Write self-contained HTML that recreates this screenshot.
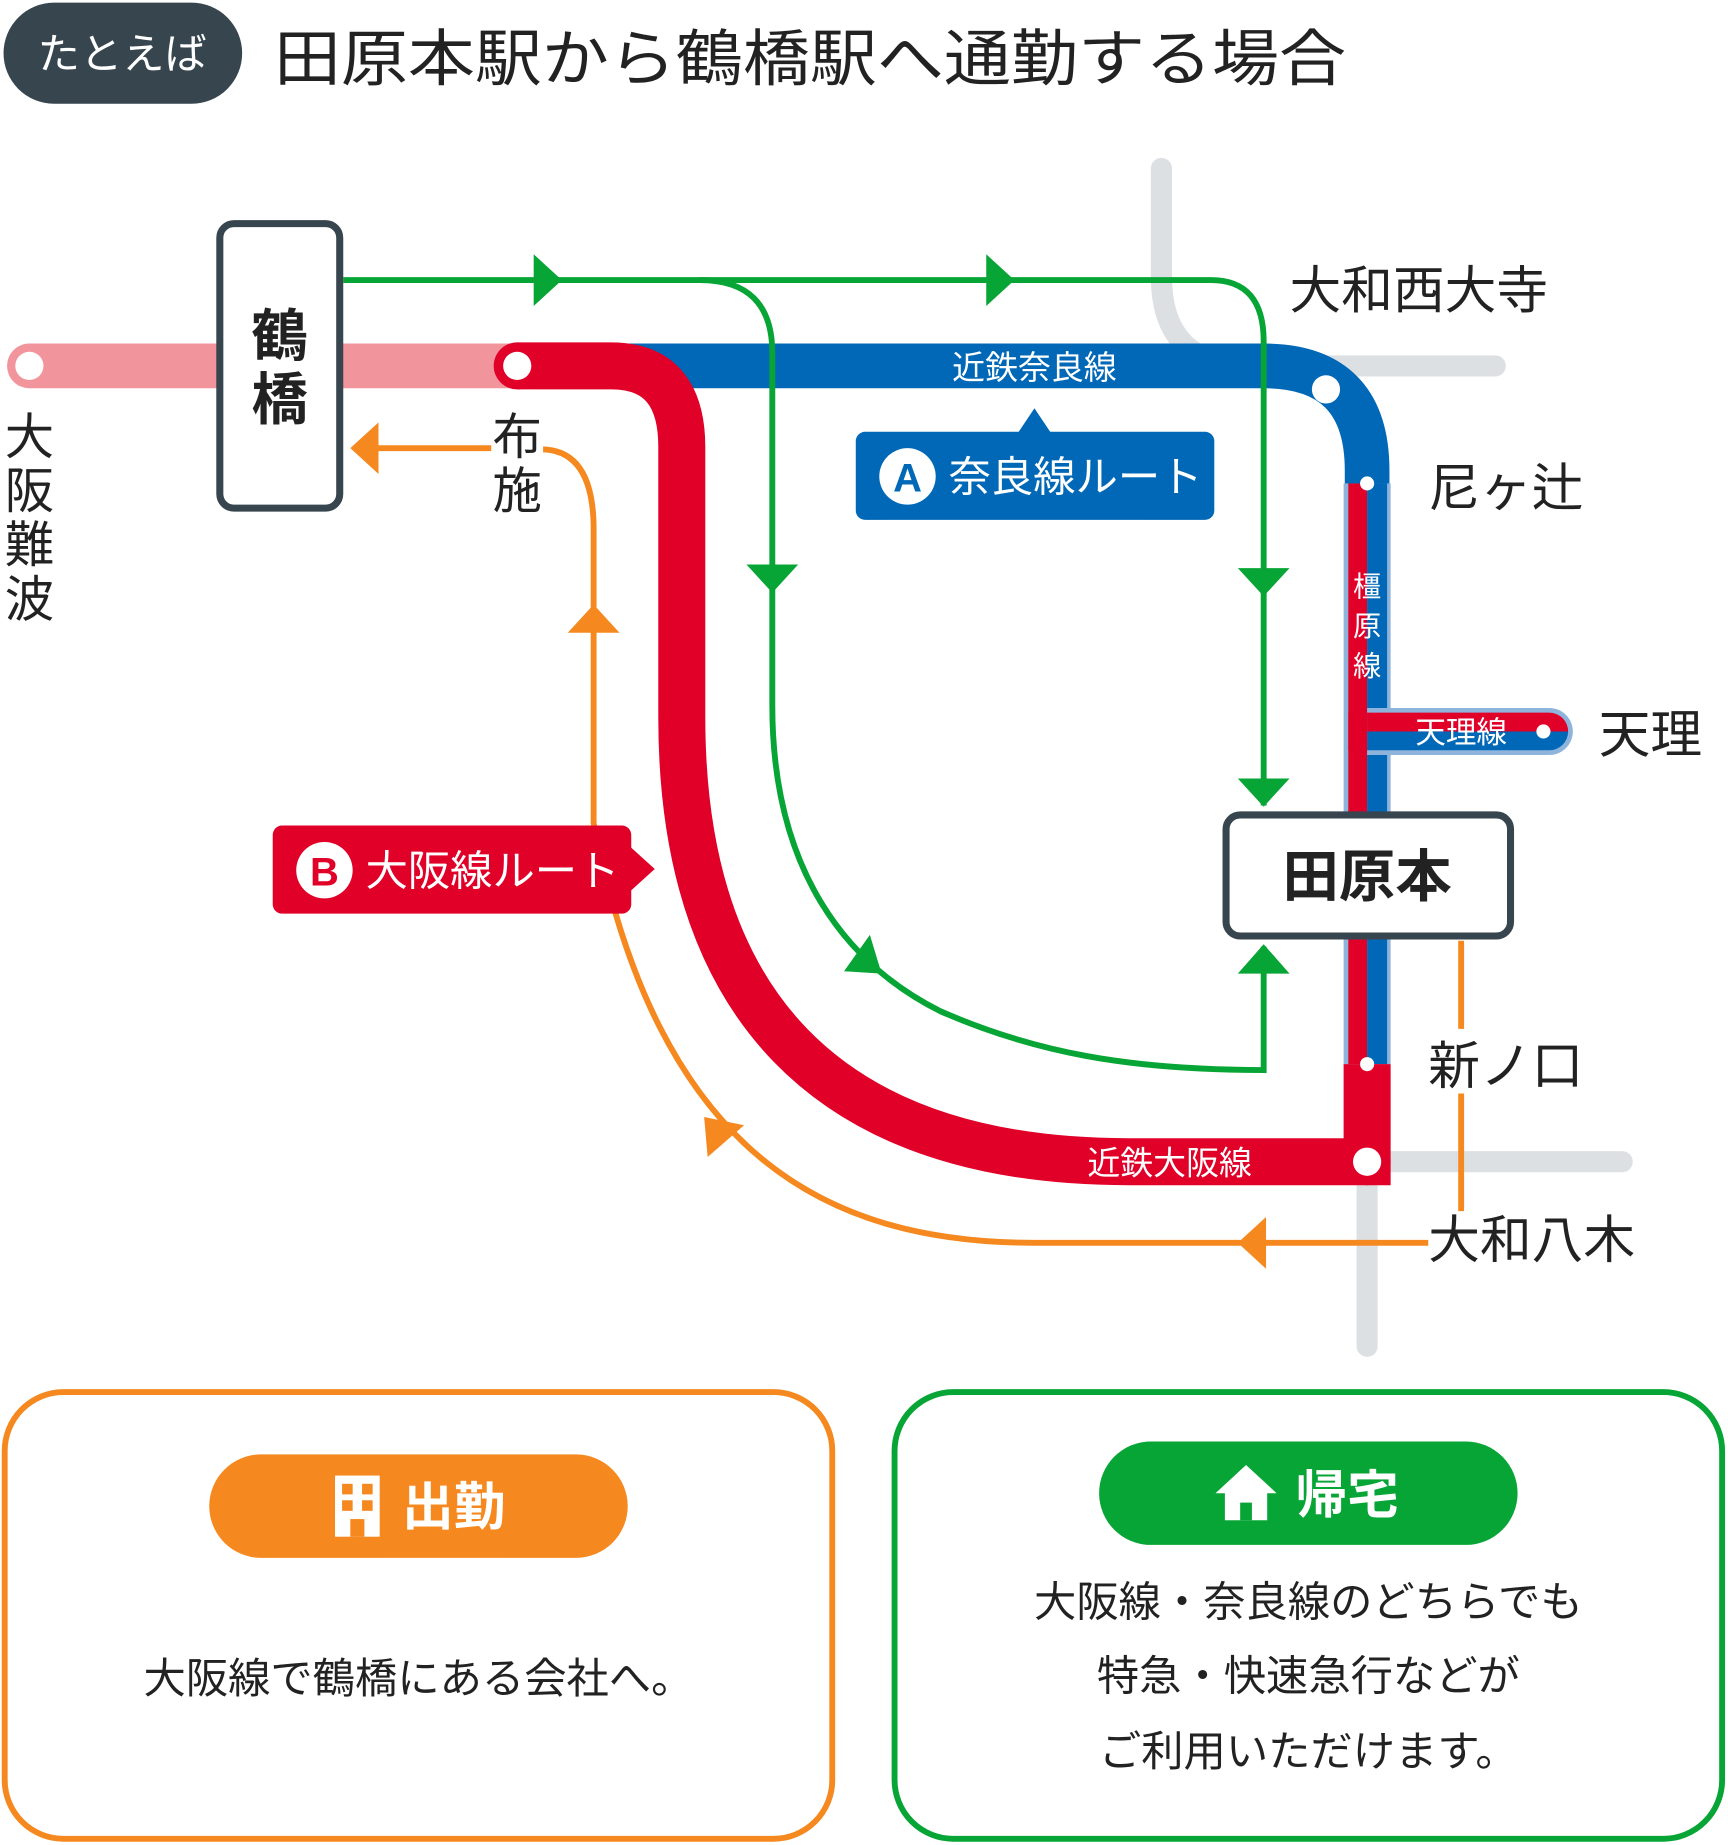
<!DOCTYPE html>
<html><head><meta charset="utf-8"><style>
html,body{margin:0;padding:0;background:#fff;}
svg{display:block;}
text{font-family:"Liberation Sans","Noto Sans CJK JP",sans-serif;}
</style></head><body>
<svg width="1728" height="1845" viewBox="0 0 1470 1569" xmlns="http://www.w3.org/2000/svg">
<!-- header -->
<rect x="3" y="2" width="203" height="86" rx="43" fill="#37454e"/>
<text x="104" y="58" font-size="36" fill="#fff" text-anchor="middle">たとえば</text>
<text x="233" y="68" font-size="52" fill="#222" textLength="912" lengthAdjust="spacingAndGlyphs">田原本駅から鶴橋駅へ通勤する場合</text>

<!-- gray lines -->
<g stroke="#dde0e3" stroke-width="18" fill="none" stroke-linecap="round">
<path d="M988,143 V235 Q988,311 1064,311 H1272"/>
<path d="M1163,988 H1380"/>
<path d="M1163,988 V1145"/>
</g>

<!-- pink -->
<path d="M25,311 H440" stroke="#f2949b" stroke-width="38" fill="none"/>
<circle cx="25" cy="311" r="19" fill="#f2949b"/>
<circle cx="25" cy="311" r="12" fill="#fff"/>

<!-- blue nara line -->
<path d="M440,311 H1075 Q1163,311 1163,400 V411" stroke="#0068b7" stroke-width="38" fill="none"/>
<!-- kashihara double -->
<rect x="1143" y="411" width="40" height="494" fill="#8fb4dc"/>
<rect x="1147" y="411" width="16" height="494" fill="#e00028"/>
<rect x="1163" y="411" width="17" height="494" fill="#0068b7"/>
<!-- tenri branch -->
<path d="M1163,602 H1318 A20,20 0 0 1 1318,642 H1163 Z" fill="#8fb4dc"/>
<path d="M1163,606 H1318 A16,16 0 0 1 1334,622 H1163 Z" fill="#e00028"/>
<path d="M1163,622 H1334 A16,16 0 0 1 1318,638 H1163 Z" fill="#0068b7"/>
<rect x="1147" y="606" width="16" height="32" fill="#e00028"/>
<text x="1243" y="632" font-size="26" fill="#fff" text-anchor="middle">天理線</text>
<circle cx="1313" cy="622" r="6" fill="#fff"/>
<g font-size="24" fill="#fff" text-anchor="middle">
<text x="1163" y="507">橿</text><text x="1163" y="541">原</text><text x="1163" y="575">線</text>
</g>

<!-- red osaka line -->
<path d="M440,311 H520 Q580,311 580,380 V610 C580,850 700,988 960,988 H1163 V905" stroke="#e00028" stroke-width="40" fill="none"/>
<circle cx="440" cy="311" r="20" fill="#e00028"/>
<circle cx="440" cy="311" r="12" fill="#fff"/>
<circle cx="1128" cy="331" r="12" fill="#fff"/>
<circle cx="1163" cy="411" r="6" fill="#fff"/>
<circle cx="1163" cy="905" r="6" fill="#fff"/>
<circle cx="1163" cy="988" r="20" fill="#e00028"/>
<circle cx="1163" cy="988" r="12" fill="#fff"/>
<text x="880" y="322" font-size="28" fill="#fff" text-anchor="middle">近鉄奈良線</text>
<text x="995" y="999" font-size="28" fill="#fff" text-anchor="middle">近鉄大阪線</text>

<!-- green -->
<g stroke="#07a535" stroke-width="5" fill="none">
<path d="M292,238 H1030 Q1075,238 1075,290 V685"/>
<path d="M595,238 Q657,238 657,300 V600 C657,740 720,820 800,860 C880,895 960,910 1075,910 V805"/>
</g>
<g fill="#07a535">
<polygon points="454,216 478,238 454,260"/>
<polygon points="839,216 863,238 839,260"/>
<polygon points="635,480 679,480 657,504"/>
<polygon points="1053,483 1097,483 1075,507"/>
<polygon points="1053,662 1097,662 1075,686"/>
<polygon points="1053,828 1097,828 1075,803"/>
<polygon points="718,826 750,828 740,795"/>
</g>

<!-- orange -->
<g stroke="#f5891f" stroke-width="5" fill="none">
<path d="M1243,800 V875 M1243,930 V1030"/>
<path d="M1215,1057 H880 C700,1057 560,980 505,700 V450 Q505,382 460,382"/>
<path d="M418,381 H315"/>
</g>
<g fill="#f5891f">
<polygon points="1077,1035 1077,1079 1053,1057"/>
<polygon points="599,950 633,957 602,984"/>
<polygon points="483,538 527,538 505,514"/>
<polygon points="322,359 322,403 298,381"/>
</g>

<!-- station boxes -->
<rect x="187" y="190" width="102" height="242" rx="12" fill="#fff" stroke="#37454e" stroke-width="6"/>
<text x="238" y="302" font-size="48" font-weight="bold" fill="#222" text-anchor="middle">鶴</text>
<text x="238" y="356" font-size="48" font-weight="bold" fill="#222" text-anchor="middle">橋</text>
<rect x="1043" y="693" width="242" height="103" rx="12" fill="#fff" stroke="#37454e" stroke-width="6"/>
<text x="1163" y="762" font-size="48" font-weight="bold" fill="#222" text-anchor="middle">田原本</text>

<!-- labels -->
<g font-size="42" fill="#222">
<text x="25" y="386" text-anchor="middle">大</text>
<text x="25" y="432" text-anchor="middle">阪</text>
<text x="25" y="478" text-anchor="middle">難</text>
<text x="25" y="524" text-anchor="middle">波</text>
<rect x="418" y="350" width="44" height="90" fill="#fff"/>
<text x="440" y="386" text-anchor="middle">布</text>
<text x="440" y="432" text-anchor="middle">施</text>
<text x="1097" y="262" font-size="44">大和西大寺</text>
<text x="1215" y="430" font-size="44">尼ヶ辻</text>
<text x="1360" y="640" font-size="44">天理</text>
<text x="1215" y="922" font-size="44">新ノ口</text>
<text x="1215" y="1070" font-size="44">大和八木</text>
</g>

<!-- route A -->
<polygon points="866,368 880,347 894,368" fill="#0068b7"/>
<rect x="728" y="367" width="305" height="75" rx="8" fill="#0068b7"/>
<circle cx="772" cy="405" r="24" fill="#fff"/>
<text x="772" y="418" font-size="34" font-weight="bold" fill="#0068b7" text-anchor="middle">A</text>
<text x="807" y="418" font-size="36" fill="#fff">奈良線ルート</text>

<!-- route B -->
<polygon points="536,720 557,739 536,758" fill="#e00028"/>
<rect x="232" y="702" width="305" height="75" rx="8" fill="#e00028"/>
<circle cx="276" cy="740" r="24" fill="#fff"/>
<text x="276" y="753" font-size="34" font-weight="bold" fill="#e00028" text-anchor="middle">B</text>
<text x="311" y="753" font-size="36" fill="#fff">大阪線ルート</text>

<!-- bottom boxes -->
<rect x="4" y="1184" width="704" height="380" rx="50" fill="#fff" stroke="#f5891f" stroke-width="5"/>
<rect x="178" y="1237" width="356" height="88" rx="44" fill="#f5891f"/>
<rect x="285" y="1255" width="38" height="52" fill="#fff"/>
<g fill="#f5891f">
<rect x="291" y="1262" width="9" height="9"/><rect x="308" y="1262" width="9" height="9"/>
<rect x="291" y="1276" width="9" height="9"/><rect x="308" y="1276" width="9" height="9"/>
<rect x="298" y="1292" width="12" height="15"/>
</g>
<text x="342" y="1297" font-size="44" font-weight="bold" fill="#fff">出勤</text>
<text x="356" y="1440" font-size="36" fill="#222" text-anchor="middle">大阪線で鶴橋にある会社へ。</text>

<rect x="761" y="1184" width="704" height="380" rx="50" fill="#fff" stroke="#07a535" stroke-width="5"/>
<rect x="935" y="1226" width="356" height="88" rx="44" fill="#07a535"/>
<polygon points="1060,1246 1034,1270 1042,1270 1042,1293 1078,1293 1078,1270 1086,1270" fill="#fff"/>
<rect x="1055" y="1278" width="10" height="15" fill="#07a535"/>
<text x="1102" y="1287" font-size="44" font-weight="bold" fill="#fff">帰宅</text>
<g font-size="36" fill="#222" text-anchor="middle">
<text x="1113" y="1375">大阪線・奈良線のどちらでも</text>
<text x="1113" y="1438">特急・快速急行などが</text>
<text x="1113" y="1502">ご利用いただけます。</text>
</g>
</svg>
</body></html>
